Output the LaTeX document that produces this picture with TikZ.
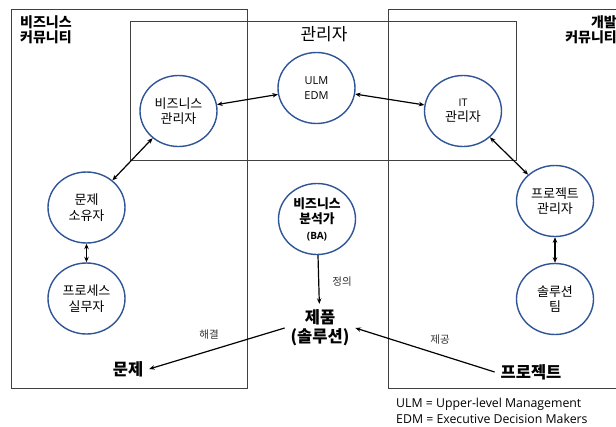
\documentclass[tikz,border=0pt]{standalone}
\usepackage{fontspec}
\setmainfont{Noto Sans CJK KR}
\newfontfamily\latf{Open Sans}
\usetikzlibrary{shapes.geometric,arrows.meta}
\definecolor{roleblue}{RGB}{47,85,151}
\begin{document}
\begin{tikzpicture}[x=1pt,y=-1pt,
  role/.style={ellipse, draw=roleblue, line width=1.4pt, minimum width=77pt,
    minimum height=71pt, inner sep=0pt, align=center,
    font=\fontsize{13}{15.5}\selectfont},
  frame/.style={draw=black!75, line width=0.9pt},
  link/.style={{Stealth[length=5.5pt,width=4.5pt]}-{Stealth[length=5.5pt,width=4.5pt]}, line width=1.2pt},
  flow/.style={-{Stealth[length=5.5pt,width=4.5pt]}, line width=1.2pt},
  big/.style={font=\bfseries\fontsize{16.5}{19}\selectfont, align=center, inner sep=1pt, outer sep=5pt},
  lab/.style={font=\fontsize{10.5}{12}\selectfont, text=black!80},
  community/.style={font=\bfseries\fontsize{14}{15.5}\selectfont, inner sep=0pt}]
\useasboundingbox (0,0) rectangle (616,426);

% community and management frames
\draw[frame] (11,9) rectangle (247,388);
\draw[frame] (130,21) rectangle (516,160);
\draw[frame] (616,9) -| (388,388) -- (616,388);

\node[community, anchor=north west, align=left] (bizcom) at (20,15) {비즈니스\\커뮤니티};
\node[community, anchor=north east, align=right] (devcom) at (617,15) {개발\\커뮤니티};
\node[font=\fontsize{17}{20}\selectfont] (mgmt) at (324,34) {관리자};

% roles
\node[role, font=\latf\fontsize{11}{14.5}\selectfont] (ulm) at (316.5,88) {ULM\\EDM};
\node[role] (bm) at (178.5,111) {비즈니스\\관리자};
\node[role] (itm) at (463,111) {{\latf\fontsize{10.5}{12}\selectfont IT}\\관리자};
\node[role] (owner) at (86.5,207.5) {문제\\소유자};
\node[role] (worker) at (86.5,298.5) {프로세스\\실무자};
\node[role, font=\bfseries\fontsize{12.8}{15.5}\selectfont] (ba) at (317,219) {비즈니스\\분석가\\{\latf\fontsize{10}{12}\selectfont (BA)}};
\node[role] (pm) at (555,201) {프로젝트\\관리자};
\node[role] (team) at (555,299) {솔루션\\팀};

% outcomes
\node[big] (prod) at (320,328) {제품\\(솔루션)};
\node[big] (problem) at (128,369) {문제};
\node[big] (proj) at (531,372) {프로젝트};

% relations
\draw[link] (bm) -- (ulm);
\draw[link] (ulm) -- (itm);
\draw[link] (owner) -- (bm);
\draw[link] (itm) -- (pm);
\draw[link] (owner) -- (worker);
\draw[link] (pm) -- (team);
\draw[flow] (ba) -- (prod);
\draw[flow] (prod.west) -- (problem.east);
\draw[flow] (proj.west) -- (prod.east);

\node[lab] (define) at (342,282) {정의};
\node[lab] (solve) at (209,335) {해결};
\node[lab] (supply) at (440,340) {제공};

% legend
\node[anchor=west, align=left, inner sep=0pt, font=\latf\fontsize{12.3}{15.5}\selectfont] (legend) at (396,411)
  {ULM = Upper-level Management\\EDM = Executive Decision Makers};
\end{tikzpicture}
\end{document}
